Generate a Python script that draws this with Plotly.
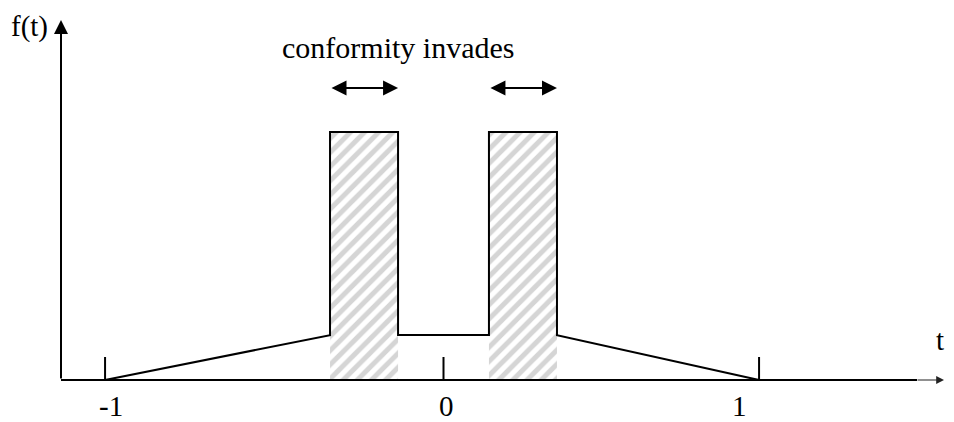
import plotly.graph_objects as go

# ---- data (t units; f in relative units) ----
t_curve = [-1.035, -0.347, -0.347, -0.139, -0.139, 0.139, 0.139, 0.347, 0.347, 0.965]
f_curve = [0.0, 0.181, 1.0, 1.0, 0.181, 0.181, 1.0, 1.0, 0.181, 0.0]

hatch_left_t = [-0.347, -0.139]
hatch_right_t = [0.139, 0.347]
hatch_top = 1.0

tick_vals = [-1.035, 0.0, 0.965]
tick_labels = ["-1", "0", "1"]
tick_label_pos = [-1.018, 0.01, 0.904]

title_text = "conformity invades"
x_label = "t"
y_label = "f(t)"

# ---- figure geometry (page-pixel mapping; page body has an 8px margin) ----
PAGE_W, PAGE_H = 954, 422
OFF = 8
X0PX, XUNIT = 443.5, 327.0   # t=0 pixel and pixels per t unit
Y0PX, YUNIT = 380.0, 248.0   # f=0 pixel and pixels per f unit


def tx(px):
    return (px - X0PX) / XUNIT


def fy(py):
    return (Y0PX - py) / YUNIT


FONT = "Liberation Serif, Times New Roman, serif"
BLACK = "#000000"

fig = go.Figure()

# hatched blocks
for lo, hi in (hatch_left_t, hatch_right_t):
    fig.add_trace(go.Scatter(
        x=[lo, hi, hi, lo, lo], y=[0, 0, hatch_top, hatch_top, 0],
        mode="lines", fill="toself", line=dict(width=0, color="rgba(0,0,0,0)"),
        fillcolor="white",
        fillpattern=dict(shape="/", fgcolor="#ababab", bgcolor="white", size=10, solidity=0.5),
        hoverinfo="skip", showlegend=False))

# function line
fig.add_trace(go.Scatter(x=t_curve, y=f_curve, mode="lines",
                         line=dict(color=BLACK, width=2), showlegend=False, hoverinfo="skip"))

yaxis_t = tx(61)
# x axis (thick part then thin arrow tail)
fig.add_shape(type="line", x0=yaxis_t, x1=tx(917), y0=0, y1=0, line=dict(color=BLACK, width=2))
fig.add_annotation(x=tx(944), y=0, ax=tx(916), ay=0, xref="x", yref="y", axref="x", ayref="y",
                   showarrow=True, arrowhead=2, arrowsize=1.3, arrowwidth=1.2, arrowcolor="#222222", text="")

# y axis with arrow
fig.add_annotation(x=yaxis_t, y=fy(20), ax=yaxis_t, ay=0, xref="x", yref="y", axref="x", ayref="y",
                   showarrow=True, arrowhead=2, arrowsize=1.4, arrowwidth=2, arrowcolor=BLACK, text="")

# ticks
for tv in tick_vals:
    fig.add_shape(type="line", x0=tv, x1=tv, y0=0, y1=fy(357), line=dict(color=BLACK, width=2))

# tick labels
for pos, lab in zip(tick_label_pos, tick_labels):
    fig.add_annotation(x=pos, y=fy(406), text=lab, showarrow=False, xref="x", yref="y",
                       font=dict(family=FONT, size=29, color=BLACK))

# axis labels
fig.add_annotation(x=tx(940), y=fy(340), text=x_label, showarrow=False,
                   font=dict(family=FONT, size=29, color=BLACK))
fig.add_annotation(x=tx(29.5), y=fy(26), text=y_label, showarrow=False,
                   font=dict(family=FONT, size=29, color=BLACK))

# title text
fig.add_annotation(x=tx(397.5), y=fy(47), text=title_text, showarrow=False,
                   font=dict(family=FONT, size=30, color=BLACK))

# double arrows over the hatched blocks
for lo, hi in (hatch_left_t, hatch_right_t):
    fig.add_annotation(x=hi, y=fy(88), ax=lo, ay=fy(88), xref="x", yref="y", axref="x", ayref="y",
                       showarrow=True, arrowhead=2, startarrowhead=2, arrowside="end+start",
                       arrowsize=1.5, startarrowsize=1.5, arrowwidth=2, arrowcolor=BLACK, text="")

fig.update_layout(
    width=PAGE_W - OFF, height=PAGE_H - OFF,
    margin=dict(l=0, r=0, t=0, b=0),
    paper_bgcolor="white", plot_bgcolor="white",
    xaxis=dict(range=[tx(OFF), tx(PAGE_W)], visible=False, fixedrange=True),
    yaxis=dict(range=[fy(PAGE_H), fy(OFF)], visible=False, fixedrange=True),
    showlegend=False,
)

fig.write_html("out.html")
